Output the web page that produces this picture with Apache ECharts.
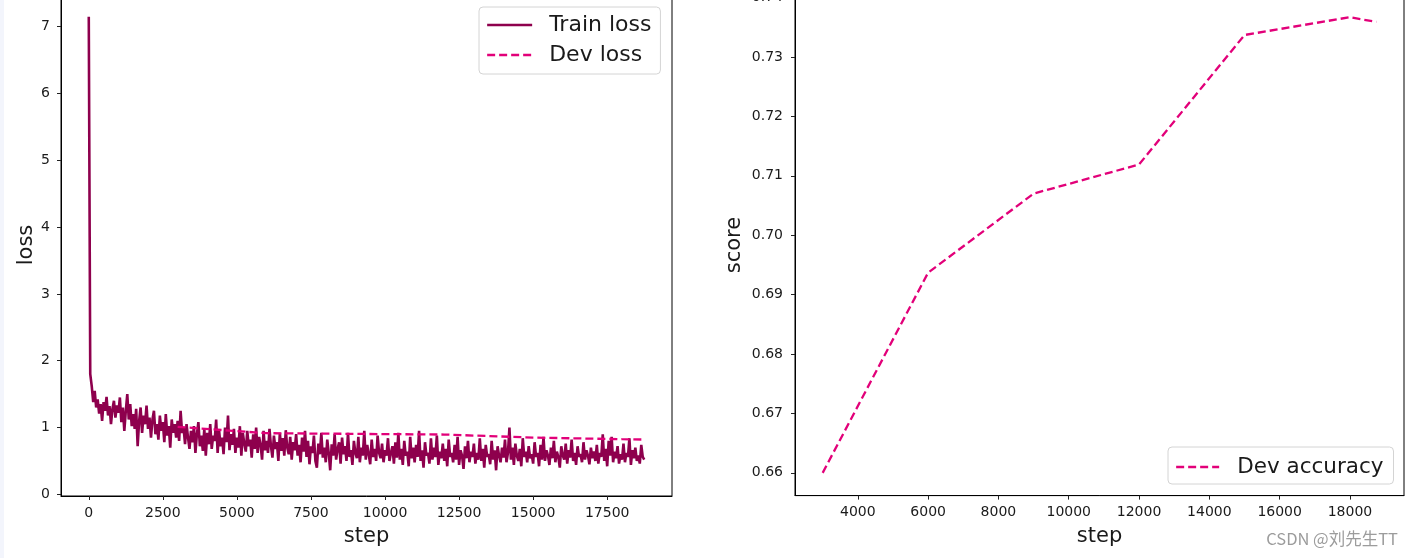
<!DOCTYPE html>
<html>
<head>
<meta charset="utf-8">
<script src="https://cdn.jsdelivr.net/npm/echarts@6/dist/echarts.min.js"></script>
<style>
html,body{margin:0;padding:0;background:#fff;}
#chart{width:1414px;height:558px;}
</style>
</head>
<body>
<div id="chart"></div>
<script>
// ---- data ----
const trainStepSize = 50;
const trainLoss = [
7.15,1.80,1.62,1.38,1.55,1.30,1.42,1.21,1.35,1.10,1.38,1.25,1.46,1.18,1.32,1.05,1.28,1.40,1.15,1.33,
1.22,1.45,1.08,1.30,0.95,1.25,1.50,1.12,1.35,1.02,1.20,0.98,1.28,0.72,1.10,1.30,0.92,1.18,1.05,1.33,
0.98,1.15,0.85,1.12,1.25,0.90,1.05,0.82,1.18,0.95,1.08,0.78,1.20,0.88,1.02,0.70,1.12,0.92,1.05,0.85,
1.10,0.80,1.25,0.92,1.00,0.75,1.05,0.85,0.68,0.95,0.78,1.02,0.62,0.90,1.08,0.72,0.88,0.65,0.98,0.58,
0.92,0.75,1.05,0.68,0.88,0.80,1.12,0.62,0.95,0.72,0.85,0.60,1.00,0.78,1.18,0.66,0.90,0.74,0.98,0.62,
0.85,0.70,1.02,0.58,0.92,0.76,0.64,0.95,0.72,0.82,0.55,0.90,0.68,1.00,0.62,0.86,0.74,0.52,0.95,0.66,
0.80,0.62,0.98,0.72,0.55,0.88,0.68,0.78,0.50,0.92,0.65,0.84,0.58,0.96,0.70,0.60,0.86,0.52,0.78,0.66,
0.90,0.58,0.74,0.48,0.85,0.64,0.95,0.56,0.80,0.45,0.72,0.62,0.88,0.50,0.40,0.76,0.60,0.92,0.55,0.70,
0.48,0.82,0.62,0.36,0.75,0.58,0.90,0.52,0.68,0.78,0.46,0.85,0.60,0.72,0.50,0.92,0.56,0.66,0.44,0.80,
0.62,0.54,0.86,0.48,0.70,0.58,0.95,0.52,0.74,0.60,0.45,0.82,0.56,0.68,0.50,0.88,0.62,0.54,0.76,0.48,
0.66,0.58,0.84,0.50,0.62,0.72,0.46,0.78,0.55,0.92,0.52,0.68,0.44,0.80,0.58,0.64,0.42,0.86,0.54,0.70,
0.48,0.74,0.56,0.95,0.50,0.66,0.40,0.78,0.58,0.62,0.46,0.84,0.52,0.70,0.56,0.88,0.44,0.64,0.54,0.76,
0.50,0.68,0.42,0.82,0.56,0.62,0.48,0.74,0.52,0.86,0.44,0.66,0.58,0.38,0.72,0.54,0.80,0.48,0.64,0.56,
0.76,0.46,0.62,0.52,0.84,0.50,0.68,0.40,0.74,0.56,0.60,0.45,0.80,0.52,0.66,0.36,0.72,0.58,0.48,0.70,
0.55,0.82,0.48,0.62,1.00,0.52,0.70,0.44,0.76,0.58,0.50,0.68,0.42,0.84,0.56,0.64,0.48,0.72,0.54,0.60,
0.46,0.78,0.56,0.62,0.42,0.74,0.52,0.86,0.50,0.66,0.58,0.44,0.70,0.54,0.80,0.48,0.64,0.56,0.40,0.72,
0.58,0.52,0.76,0.46,0.66,0.55,0.82,0.50,0.62,0.44,0.72,0.56,0.60,0.48,0.78,0.52,0.66,0.58,0.45,0.70,
0.54,0.64,0.50,0.74,0.46,0.62,0.56,0.90,0.50,0.68,0.42,0.80,0.58,0.86,0.48,0.64,0.54,0.72,0.46,0.60,
0.52,0.76,0.48,0.62,0.56,0.84,0.44,0.66,0.54,0.70,0.50,0.58,0.46,0.74,0.56,0.52
];
const devSteps = [3000, 6000, 9000, 12000, 15000, 18000, 18750];
const devLoss = [1.01, 0.915, 0.905, 0.895, 0.85, 0.825, 0.82];
const devAccuracy = [0.660, 0.6937, 0.7070, 0.7119, 0.7337, 0.7367, 0.7359];

const lossXTicks = [0, 2500, 5000, 7500, 10000, 12500, 15000, 17500];
const lossYTicks = [0, 1, 2, 3, 4, 5, 6, 7];
const accXTicks = [4000, 6000, 8000, 10000, 12000, 14000, 16000, 18000];
const accYTicks = [0.66, 0.67, 0.68, 0.69, 0.70, 0.71, 0.72, 0.73, 0.74];

// ---- build ----
const trainPairs = trainLoss.map((v, i) => [i * trainStepSize, v]);
const devLossPairs = devSteps.map((s, i) => [s, devLoss[i]]);
const devAccPairs = devSteps.map((s, i) => [s, devAccuracy[i]]);

const FONT = 'DejaVu Sans';
const TXT = '#1a1a1a';
const TRAIN_COLOR = '#8E004D';
const DEV_COLOR = '#E20079';

function axisCommon(ticks, fmt, margin) {
  return {
    axisLine: {show: true, onZero: false, lineStyle: {color: '#000', width: 1}},
    axisTick: {show: true, inside: false, length: 4, customValues: ticks, lineStyle: {color: '#222', width: 1}},
    axisLabel: {customValues: ticks, color: TXT, fontFamily: FONT, fontSize: 14, margin: margin,
      formatter: fmt, showMinLabel: true, showMaxLabel: true, hideOverlap: false},
    splitLine: {show: false},
    nameTextStyle: {color: TXT, fontFamily: FONT, fontSize: 21}
  };
}

const legendCommon = {
  show: true, orient: 'vertical',
  backgroundColor: 'rgba(255,255,255,0.8)', borderColor: '#d4d4d4', borderWidth: 1, borderRadius: 4,
  itemStyle: {opacity: 0, borderWidth: 0},
  lineStyle: {width: 2.3}
};

const chart = echarts.init(document.getElementById('chart'), null, {renderer: 'canvas'});
const option = {
  animation: false,
  backgroundColor: '#fff',
  grid: [
    {left: 61, top: -6, width: 611, height: 502, outerBoundsMode: 'none', containLabel: false,
     show: true, borderColor: '#000', borderWidth: 1, backgroundColor: 'transparent'},
    {left: 795, top: -5.4, width: 609, height: 501, outerBoundsMode: 'none', containLabel: false,
     show: true, borderColor: '#000', borderWidth: 1, backgroundColor: 'transparent'}
  ],
  xAxis: [
    Object.assign(axisCommon(lossXTicks, v => String(v), 10), {
      type: 'value', gridIndex: 0, min: -937.5, max: 19687.5,
      name: 'step', nameLocation: 'middle', nameGap: 30
    }),
    Object.assign(axisCommon(accXTicks, v => String(v), 10), {
      type: 'value', gridIndex: 1, min: 2212.5, max: 19537.5,
      name: 'step', nameLocation: 'middle', nameGap: 30
    })
  ],
  yAxis: [
    Object.assign(axisCommon(lossYTicks, v => String(v), 11), {
      type: 'value', gridIndex: 0, min: -0.025, max: 7.49,
      name: 'loss', nameLocation: 'middle', nameGap: 24
    }),
    Object.assign(axisCommon(accYTicks, v => v.toFixed(2), 12), {
      type: 'value', gridIndex: 1, min: 0.65617, max: 0.7405,
      name: 'score', nameLocation: 'middle', nameGap: 50
    })
  ],
  legend: [
    Object.assign({}, legendCommon, {
      left: 479, top: 7,
      data: ['Train loss', 'Dev loss'],
      itemWidth: 45, itemHeight: 22, itemGap: 8,
      padding: [7, 9, 8, 7],
      textStyle: {color: TXT, fontFamily: FONT, fontSize: 22, lineHeight: 22, padding: [0, 0, 0, 12]}
    }),
    Object.assign({}, legendCommon, {
      left: 1168, top: 447,
      data: ['Dev accuracy'],
      itemWidth: 43, itemHeight: 22, itemGap: 8,
      padding: [9, 10, 6, 7],
      textStyle: {color: TXT, fontFamily: FONT, fontSize: 21.5, lineHeight: 22, padding: [0, 0, 0, 13]}
    })
  ],
  series: [
    {
      name: 'Train loss', type: 'line', xAxisIndex: 0, yAxisIndex: 0,
      data: trainPairs, symbol: 'none', showSymbol: false, sampling: 'none',
      lineStyle: {color: TRAIN_COLOR, width: 2.6}, itemStyle: {color: TRAIN_COLOR}, z: 2
    },
    {
      name: 'Dev loss', type: 'line', xAxisIndex: 0, yAxisIndex: 0,
      data: devLossPairs, symbol: 'none', showSymbol: false,
      lineStyle: {color: DEV_COLOR, width: 2.3, type: [8, 4]}, itemStyle: {color: DEV_COLOR}, z: 3
    },
    {
      name: 'Dev accuracy', type: 'line', xAxisIndex: 1, yAxisIndex: 1,
      data: devAccPairs, symbol: 'none', showSymbol: false,
      lineStyle: {color: DEV_COLOR, width: 2.3, type: [8, 4]}, itemStyle: {color: DEV_COLOR}, z: 3
    }
  ],
  graphic: [
    {type: 'rect', left: 0, top: 0, shape: {width: 4, height: 558}, style: {fill: '#f3f5fc'}, silent: true, z: -1},
    {type: 'text', right: 16, top: 530, style: {text: 'CSDN @刘先生TT', fill: '#9c9c9c', fontSize: 16.5, fontFamily: 'Noto Sans CJK SC'}, silent: true}
  ]
};
chart.setOption(option);
</script>
</body>
</html>
